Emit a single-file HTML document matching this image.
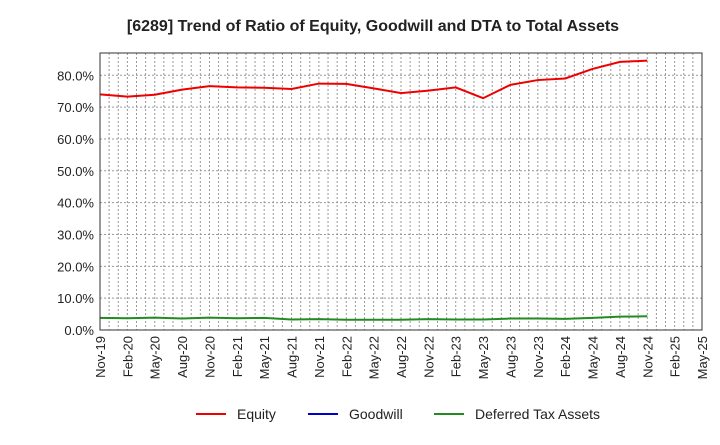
<!DOCTYPE html>
<html><head><meta charset="utf-8"><style>
body{margin:0;background:#fff;font-family:"Liberation Sans",Arial,sans-serif;}
svg text{font-family:"Liberation Sans",Arial,sans-serif;}
</style></head><body>
<svg id="chart" width="720" height="440" xmlns="http://www.w3.org/2000/svg">
<text x="373" y="31" text-anchor="middle" font-size="16" font-weight="bold" fill="#222">[6289]  Trend of Ratio of Equity, Goodwill and DTA to Total Assets</text>
<g id="grid"></g><g id="series"></g><g id="axes"></g>
<g>
<line x1="196" y1="414" x2="226" y2="414" stroke="#e00" stroke-width="2"/>
<text x="237" y="419" font-size="14" fill="#222">Equity</text>
<line x1="308" y1="414" x2="338" y2="414" stroke="#0000cc" stroke-width="2"/>
<text x="349" y="419" font-size="14" fill="#222">Goodwill</text>
<line x1="434" y1="414" x2="464" y2="414" stroke="#228b22" stroke-width="2"/>
<text x="475" y="419" font-size="14" fill="#222">Deferred Tax Assets</text>
</g>
</svg>
<script>
const xLabels=["Nov-19","Feb-20","May-20","Aug-20","Nov-20","Feb-21","May-21","Aug-21","Nov-21","Feb-22","May-22","Aug-22","Nov-22","Feb-23","May-23","Aug-23","Nov-23","Feb-24","May-24","Aug-24","Nov-24","Feb-25","May-25"];
const yTicks=[0,10,20,30,40,50,60,70,80];
const equity=[74.0,73.3,73.9,75.5,76.6,76.2,76.1,75.7,77.4,77.3,75.9,74.4,75.2,76.2,72.8,77.0,78.5,79.0,82.0,84.2,84.6];
const goodwill=[];
const dta=[3.8,3.7,3.9,3.6,3.9,3.7,3.8,3.3,3.4,3.2,3.2,3.2,3.4,3.3,3.3,3.6,3.6,3.5,3.8,4.2,4.3];
const L=100,R=702,T=53,B=330,yMax=87;
const nQ=xLabels.length-1;
const x=i=>L+(R-L)*i/nQ;
const y=v=>B-(B-T)*v/yMax;
const NS="http://www.w3.org/2000/svg";
function mk(tag,attrs,parent){const e=document.createElementNS(NS,tag);for(const k in attrs)e.setAttribute(k,attrs[k]);parent.appendChild(e);return e;}
const grid=document.getElementById('grid'),ser=document.getElementById('series'),ax=document.getElementById('axes');
for(let m=1;m<nQ*3;m++){const xx=L+(R-L)*m/(nQ*3);
const l=mk('line',{x1:xx,x2:xx,y1:T,y2:B,stroke:'#999','stroke-dasharray':'2,2'},grid);

}
yTicks.forEach(v=>{
if(v>0){const l=mk('line',{x1:L,x2:R,y1:y(v),y2:y(v),stroke:'#999','stroke-dasharray':'2,2'},grid);

}
const t=mk('text',{x:L-6,y:y(v)+5,'text-anchor':'end','font-size':'13',fill:'#222'},ax);
t.textContent=v.toFixed(1)+'%';

});
xLabels.forEach((lab,i)=>{
const t=mk('text',{transform:`translate(${x(i)+5},${B+6}) rotate(-90)`,'text-anchor':'end','font-size':'13',fill:'#222'},ax);
t.textContent=lab;

});
const fr=mk('rect',{x:L,y:T,width:R-L,height:B-T,fill:'none',stroke:'#333','stroke-width':1},ax);


function line(arr,color,name){if(!arr.length)return;
const p=mk('polyline',{points:arr.map((v,i)=>x(i)+','+y(v)).join(' '),fill:'none',stroke:color,'stroke-width':2},ser);

}
line(dta,'#228b22','dta-line');
line(goodwill,'#0000cc','goodwill-line');
line(equity,'#e00','equity-line');
</script>
</body></html>
